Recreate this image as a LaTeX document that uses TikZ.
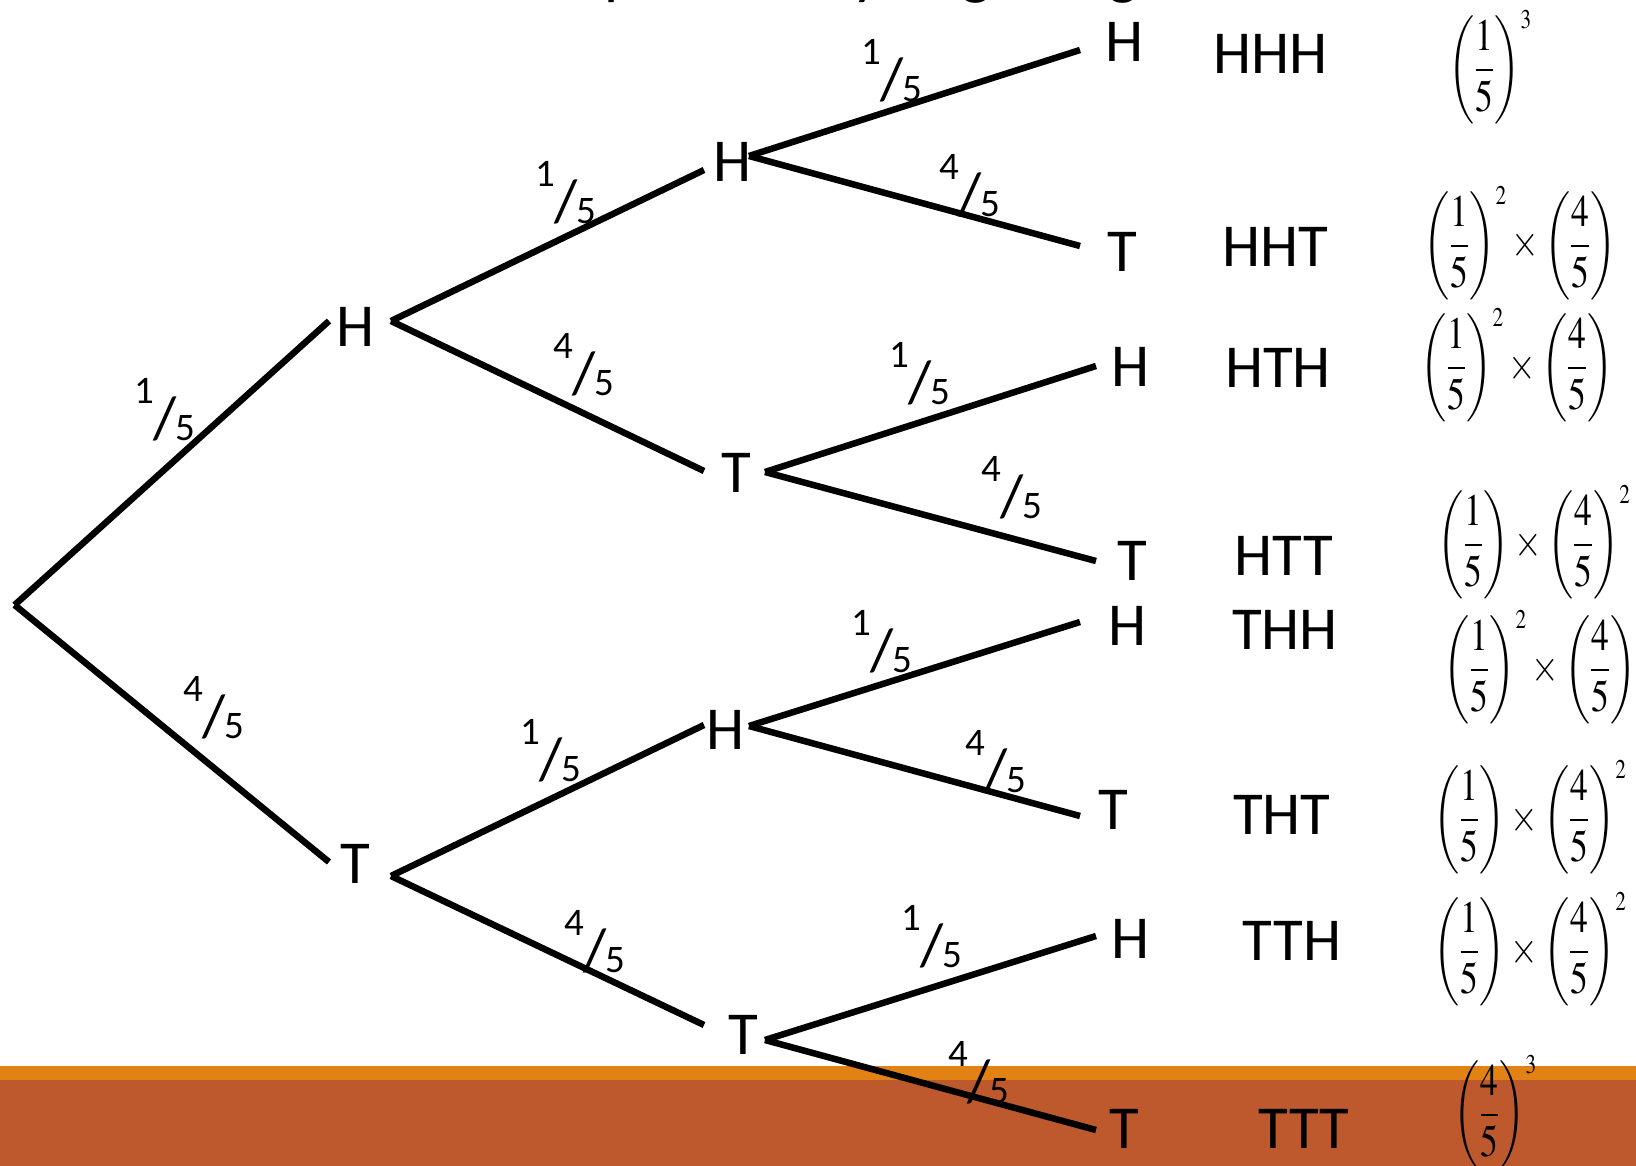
\documentclass[tikz,border=0pt]{standalone}
\usepackage{amsmath}
\usepackage{graphicx}
\usepackage{mathptmx}
\usepackage[no-math]{fontspec}
\newfontfamily\calib{Carlito}
\definecolor{barorange}{RGB}{227,130,20}
\definecolor{barrust}{RGB}{189,89,45}
\newcommand{\pf}[2]{{\fontsize{39}{39}\selectfont\raisebox{37pt}{#1}}\kern-1pt{\fontsize{60}{60}\selectfont\raisebox{2pt}{/}}\kern-1pt{\fontsize{39}{39}\selectfont#2}}
\newcommand{\pfr}[2]{\left(\dfrac{#1}{#2}\right)}
\newcommand{\tallmath}[1]{\scalebox{0.96}[1.22]{$#1$}}
\tikzset{
  branch/.style={line width=6.5pt},
  lbl/.style={font=\calib\fontsize{61}{61}\selectfont, inner sep=0pt, text height=39pt, text depth=0pt, anchor=center},
  prob/.style={font=\calib, inner sep=0pt, anchor=center},
  formula/.style={font=\fontsize{37}{37}\selectfont, inner sep=0pt, anchor=base west}
}
\begin{document}
\begin{tikzpicture}[x=1pt,y=-1pt]
\useasboundingbox (0,0) rectangle (1636,1166);
% bottom bar
\fill[barorange] (0,1066) rectangle (1636,1080);
\fill[barrust] (0,1080) rectangle (1636,1166);
% title (clipped at the top)
\node[font=\calib\fontsize{63}{63}\selectfont, inner sep=0pt, anchor=base west] (title) at (604,-7) {probability of getting};
% connector end points
\coordinate (root) at (14.6,605);
\coordinate (H1in) at (329,321);  \coordinate (H1out) at (391,321);
\coordinate (T1in) at (329,862);  \coordinate (T1out) at (391,876);
\coordinate (H2in) at (704,170);  \coordinate (H2out) at (749,156);
\coordinate (T2in) at (704,471);  \coordinate (T2out) at (765,472);
\coordinate (H3in) at (704,725);  \coordinate (H3out) at (749,726);
\coordinate (T3in) at (704,1025); \coordinate (T3out) at (765,1040);
\coordinate (L1) at (1080,50);   \coordinate (L2) at (1080,246);
\coordinate (L3) at (1096,366);  \coordinate (L4) at (1096,561);
\coordinate (L5) at (1080,622);  \coordinate (L6) at (1080,816);
\coordinate (L7) at (1096,936);  \coordinate (L8) at (1096,1130);
% branches
\draw[branch] (root) -- (H1in);
\draw[branch] (root) -- (T1in);
\draw[branch] (H1out) -- (H2in);
\draw[branch] (H1out) -- (T2in);
\draw[branch] (T1out) -- (H3in);
\draw[branch] (T1out) -- (T3in);
\draw[branch] (H2out) -- (L1);
\draw[branch] (H2out) -- (L2);
\draw[branch] (T2out) -- (L3);
\draw[branch] (T2out) -- (L4);
\draw[branch] (H3out) -- (L5);
\draw[branch] (H3out) -- (L6);
\draw[branch] (T3out) -- (L7);
\draw[branch] (T3out) -- (L8);
% outcome letters on the tree
\node[lbl] (nH1) at (355,327) {H};
\node[lbl] (nT1) at (355,864) {T};
\node[lbl] (nH2) at (732,162) {H};
\node[lbl] (nT2) at (736,473) {T};
\node[lbl] (nH3) at (725,730) {H};
\node[lbl] (nT3) at (743,1035) {T};
\node[lbl] (nL1) at (1124,42) {H};
\node[lbl] (nL2) at (1122,252) {T};
\node[lbl] (nL3) at (1130,367) {H};
\node[lbl] (nL4) at (1132,561) {T};
\node[lbl] (nL5) at (1127,626) {H};
\node[lbl] (nL6) at (1113,810) {T};
\node[lbl] (nL7) at (1130,939) {H};
\node[lbl] (nL8) at (1124,1129) {T};
% outcome sequences
\node[lbl] (s1) at (1270,54) {HHH};
\node[lbl] (s2) at (1275,247) {HHT};
\node[lbl] (s3) at (1278,368) {HTH};
\node[lbl] (s4) at (1284,556) {HTT};
\node[lbl] (s5) at (1285,630) {THH};
\node[lbl] (s6) at (1282,815) {THT};
\node[lbl] (s7) at (1292,941) {TTH};
\node[lbl] (s8) at (1304,1129) {TTT};
% branch probabilities
\node[prob] (p1) at (165,410) {\pf{1}{5}};
\node[prob] (p2) at (214,708) {\pf{4}{5}};
\node[prob] (p3) at (566,193) {\pf{1}{5}};
\node[prob] (p4) at (584,365) {\pf{4}{5}};
\node[prob] (p5) at (551,751) {\pf{1}{5}};
\node[prob] (p6) at (595,942) {\pf{4}{5}};
\node[prob] (p7) at (892,71) {\pf{1}{5}};
\node[prob] (p8) at (970,186) {\pf{4}{5}};
\node[prob] (p9) at (920,374) {\pf{1}{5}};
\node[prob] (p10) at (1012,488) {\pf{4}{5}};
\node[prob] (p11) at (882,642) {\pf{1}{5}};
\node[prob] (p12) at (996,762) {\pf{4}{5}};
\node[prob] (p13) at (932,937) {\pf{1}{5}};
\node[prob] (p14) at (979,1073) {\pf{4}{5}};
% probability expressions
\node[formula] (f1) at (1448,81) {\tallmath{\pfr{1}{5}^{\scriptscriptstyle 3}}};
\node[formula] (f2) at (1423,257) {\tallmath{\pfr{1}{5}^{\scriptscriptstyle 2}\times\pfr{4}{5}}};
\node[formula] (f3) at (1420,379) {\tallmath{\pfr{1}{5}^{\scriptscriptstyle 2}\times\pfr{4}{5}}};
\node[formula] (f4) at (1437,556) {\tallmath{\pfr{1}{5}\times\pfr{4}{5}^{\scriptscriptstyle 2}}};
\node[formula] (f5) at (1443,681) {\tallmath{\pfr{1}{5}^{\scriptscriptstyle 2}\times\pfr{4}{5}}};
\node[formula] (f6) at (1433,831) {\tallmath{\pfr{1}{5}\times\pfr{4}{5}^{\scriptscriptstyle 2}}};
\node[formula] (f7) at (1433,963) {\tallmath{\pfr{1}{5}\times\pfr{4}{5}^{\scriptscriptstyle 2}}};
\node[formula] (f8) at (1453,1126) {\tallmath{\pfr{4}{5}^{\scriptscriptstyle 3}}};
\end{tikzpicture}
\end{document}
